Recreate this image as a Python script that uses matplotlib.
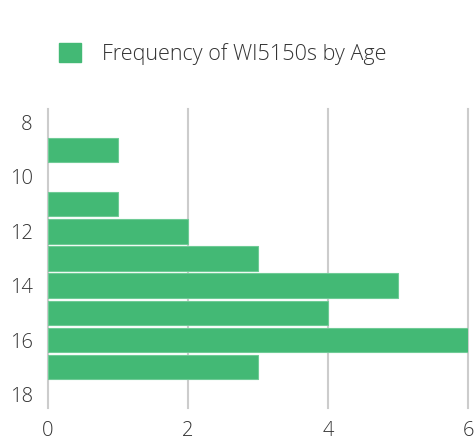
import matplotlib
matplotlib.use("Agg")
import matplotlib.pyplot as plt
from matplotlib.patches import Patch

ages = [9, 11, 12, 13, 14, 15, 16, 17]
counts = [1, 1, 2, 3, 5, 4, 6, 3]
series_name = "Frequency of WI5150s by Age"
y_ticks = [8, 10, 12, 14, 16, 18]
x_ticks = [0, 2, 4, 6]

plt.rcParams['font.family'] = ['Open Sans', 'DejaVu Sans']

fig = plt.figure(figsize=(4.76, 4.41), dpi=100)
ax = fig.add_axes([48/476, 33/441, 420/476, 299/441])

bar_color = "#43b975"
ax.barh(ages, counts, height=0.9, color=bar_color, edgecolor="#6fcb96",
        linewidth=0.8, zorder=3)

ax.set_xlim(0, 6)
ax.set_ylim(18.5, 7.5)
ax.set_xticks(x_ticks)
ax.set_yticks(y_ticks)
ax.set_xticklabels([str(v) for v in x_ticks])
ax.set_yticklabels([str(v) for v in y_ticks])

for s in ax.spines.values():
    s.set_visible(False)
for xv in x_ticks:
    ax.axvline(xv, color="#cccccc", lw=1.5, zorder=1, clip_on=False)

ax.tick_params(axis='both', length=0, labelsize=14.5, colors="#333333")
ax.tick_params(axis='y', pad=11)
ax.tick_params(axis='x', pad=9)
for lab in ax.get_xticklabels() + ax.get_yticklabels():
    lab.set_fontweight('light')

handle = Patch(facecolor=bar_color, edgecolor=bar_color)
leg = fig.legend([handle], [series_name], loc='center left',
                 bbox_to_anchor=(40/476, 1 - 54/441), frameon=False,
                 prop={'size': 15.5, 'weight': 'light'},
                 handlelength=1.0, handleheight=1.0, handletextpad=1.0)
for t in leg.get_texts():
    t.set_color("#333333")

fig.savefig("out.png", dpi=100)
